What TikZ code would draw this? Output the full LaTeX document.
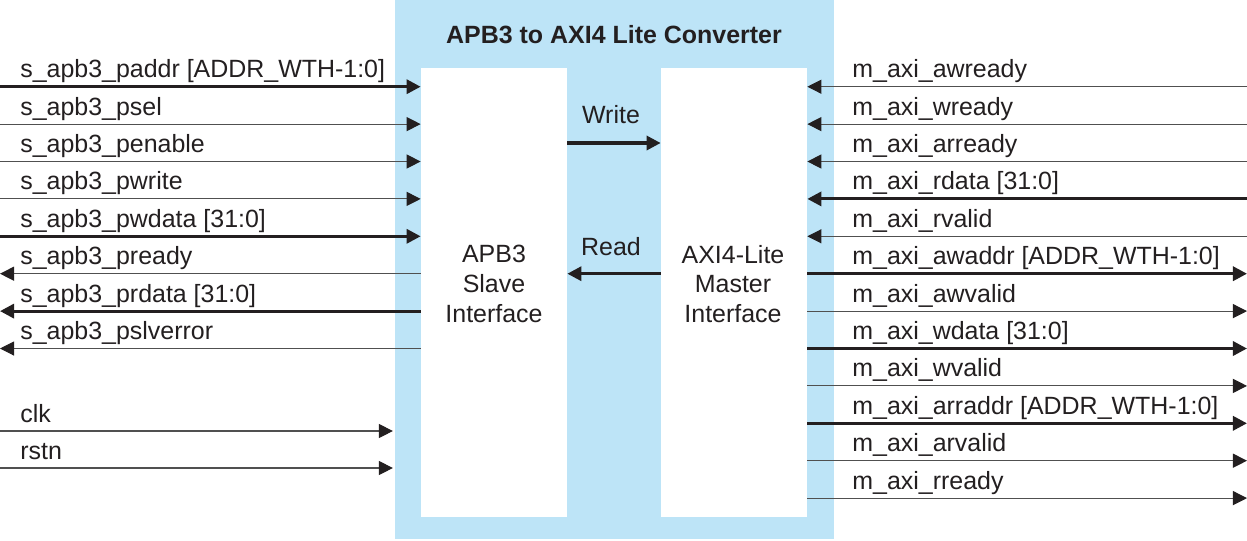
\documentclass[tikz,border=0pt]{standalone}
\usepackage{fontspec}
\setmainfont{Liberation Sans}
\usetikzlibrary{arrows.meta}
\definecolor{corFundo}{RGB}{189, 228, 247}
\definecolor{corTexto}{RGB}{ 35,  31,  32}
\definecolor{corFio}{RGB}{ 80,  80,  80}

\tikzset{
  fino/.style={draw=corFio, line width=0.6pt},
  grosso/.style={draw=corTexto, line width=1.8pt},
  seta/.style={-{Triangle[length=8pt, width=8pt, color=corTexto]}},
  rotulo/.style={anchor=base west, inner sep=0pt, text=corTexto,
                 font=\fontsize{14.2pt}{17pt}\selectfont},
  caixa/.style={fill=white, draw=none, minimum width=2.92cm,
                minimum height=8.98cm, inner sep=0pt}
}

\begin{document}
\begin{tikzpicture}[x=0.2mm, y=-0.2mm]

  \useasboundingbox (0,0) rectangle (1247,540);

  %% ================================================================
  %%  CONVERSOR — fundo azul e os dois blocos brancos
  %% ================================================================
  \node[fill=corFundo, minimum width=8.78cm, minimum height=10.78cm,
        inner sep=0pt] (conversor) at (614.5, 269.5) {};
  \node[caixa] (escravo) at (494.0, 292.5) {};
  \node[caixa] (mestre)  at (734.0, 292.5) {};

  % Titulo
  \node[rotulo, anchor=base, font=\fontsize{14.2pt}{17pt}\selectfont\bfseries]
        (titulo) at (614, 43) {APB3 to AXI4 Lite Converter};

  % Textos dos blocos
  \node[rotulo, anchor=center, align=center] (txtEscravo) at (494, 284)
        {APB3\\Slave\\Interface};
  \node[rotulo, anchor=center, align=center] (txtMestre) at (733, 284)
        {AXI4-Lite\\Master\\Interface};

  %% ================================================================
  %%  SETAS INTERNAS — escrita e leitura
  %% ================================================================
  \coordinate (escrita) at (614, 143);
  \coordinate (leitura) at (614, 273.7);
  \draw[grosso, seta] (escrita -| escravo.east) -- (escrita -| mestre.west);
  \draw[grosso, seta] (leitura -| mestre.west) -- (leitura -| escravo.east);
  \node[rotulo, anchor=base] (txtEscrita) at (611, 123) {Write};
  \node[rotulo, anchor=base] (txtLeitura) at (611, 255) {Read};

  %% ================================================================
  %%  LADO ESQUERDO — sinais APB3
  %% ================================================================
  \coordinate (paddr)     at (0,  86.7);
  \coordinate (psel)      at (0, 124.1);
  \coordinate (penable)   at (0, 161.5);
  \coordinate (pwrite)    at (0, 198.9);
  \coordinate (pwdata)    at (0, 236.3);
  \coordinate (pready)    at (0, 273.7);
  \coordinate (prdata)    at (0, 311.1);
  \coordinate (pslverror) at (0, 348.5);
  \coordinate (clk)       at (0, 431.0);
  \coordinate (rstn)      at (0, 468.0);

  % entradas
  \draw[grosso, seta] (paddr)   -- (paddr   -| escravo.west);
  \draw[fino,   seta] (psel)    -- (psel    -| escravo.west);
  \draw[fino,   seta] (penable) -- (penable -| escravo.west);
  \draw[fino,   seta] (pwrite)  -- (pwrite  -| escravo.west);
  \draw[grosso, seta] (pwdata)  -- (pwdata  -| escravo.west);
  % saidas
  \draw[fino,   seta] (pready    -| escravo.west) -- (pready);
  \draw[grosso, seta] (prdata    -| escravo.west) -- (prdata);
  \draw[fino,   seta] (pslverror -| escravo.west) -- (pslverror);
  % relogio e reset
  \draw[fino, seta, shorten >=1pt] (clk)  -- (clk  -| conversor.west);
  \draw[fino, seta, shorten >=1pt] (rstn) -- (rstn -| conversor.west);

  % Rotulos do lado esquerdo
  \node[rotulo] (lPaddr)     at (20,  77.7) {s\_apb3\_paddr [ADDR\_WTH-1:0]};
  \node[rotulo] (lPsel)      at (20, 115.1) {s\_apb3\_psel};
  \node[rotulo] (lPenable)   at (20, 152.5) {s\_apb3\_penable};
  \node[rotulo] (lPwrite)    at (20, 189.9) {s\_apb3\_pwrite};
  \node[rotulo] (lPwdata)    at (20, 227.3) {s\_apb3\_pwdata [31:0]};
  \node[rotulo] (lPready)    at (20, 264.7) {s\_apb3\_pready};
  \node[rotulo] (lPrdata)    at (20, 302.1) {s\_apb3\_prdata [31:0]};
  \node[rotulo] (lPslverror) at (20, 339.5) {s\_apb3\_pslverror};
  \node[rotulo] (lClk)       at (20, 422.0) {clk};
  \node[rotulo] (lRstn)      at (20, 459.0) {rstn};

  %% ================================================================
  %%  LADO DIREITO — sinais AXI4-Lite
  %% ================================================================
  \coordinate (awready) at (1247,  86.7);
  \coordinate (wready)  at (1247, 124.1);
  \coordinate (arready) at (1247, 161.5);
  \coordinate (rdata)   at (1247, 198.9);
  \coordinate (rvalid)  at (1247, 236.3);
  \coordinate (awaddr)  at (1247, 273.7);
  \coordinate (awvalid) at (1247, 311.1);
  \coordinate (wdata)   at (1247, 348.5);
  \coordinate (wvalid)  at (1247, 385.9);
  \coordinate (arraddr) at (1247, 423.3);
  \coordinate (arvalid) at (1247, 460.7);
  \coordinate (rready)  at (1247, 498.1);

  % entradas
  \draw[fino,   seta] (awready) -- (awready -| mestre.east);
  \draw[fino,   seta] (wready)  -- (wready  -| mestre.east);
  \draw[fino,   seta] (arready) -- (arready -| mestre.east);
  \draw[grosso, seta] (rdata)   -- (rdata   -| mestre.east);
  \draw[fino,   seta] (rvalid)  -- (rvalid  -| mestre.east);
  % saidas
  \draw[grosso, seta] (awaddr  -| mestre.east) -- (awaddr);
  \draw[fino,   seta] (awvalid -| mestre.east) -- (awvalid);
  \draw[grosso, seta] (wdata   -| mestre.east) -- (wdata);
  \draw[fino,   seta] (wvalid  -| mestre.east) -- (wvalid);
  \draw[grosso, seta] (arraddr -| mestre.east) -- (arraddr);
  \draw[fino,   seta] (arvalid -| mestre.east) -- (arvalid);
  \draw[fino,   seta] (rready  -| mestre.east) -- (rready);

  % Rotulos do lado direito
  \node[rotulo] (lAwready) at (852,  77.7) {m\_axi\_awready};
  \node[rotulo] (lWready)  at (852, 115.1) {m\_axi\_wready};
  \node[rotulo] (lArready) at (852, 152.5) {m\_axi\_arready};
  \node[rotulo] (lRdata)   at (852, 189.9) {m\_axi\_rdata [31:0]};
  \node[rotulo] (lRvalid)  at (852, 227.3) {m\_axi\_rvalid};
  \node[rotulo] (lAwaddr)  at (852, 264.7) {m\_axi\_awaddr [ADDR\_WTH-1:0]};
  \node[rotulo] (lAwvalid) at (852, 302.1) {m\_axi\_awvalid};
  \node[rotulo] (lWdata)   at (852, 339.5) {m\_axi\_wdata [31:0]};
  \node[rotulo] (lWvalid)  at (852, 376.9) {m\_axi\_wvalid};
  \node[rotulo] (lArraddr) at (852, 414.3) {m\_axi\_arraddr [ADDR\_WTH-1:0]};
  \node[rotulo] (lArvalid) at (852, 451.7) {m\_axi\_arvalid};
  \node[rotulo] (lRready)  at (852, 489.1) {m\_axi\_rready};

\end{tikzpicture}
\end{document}
